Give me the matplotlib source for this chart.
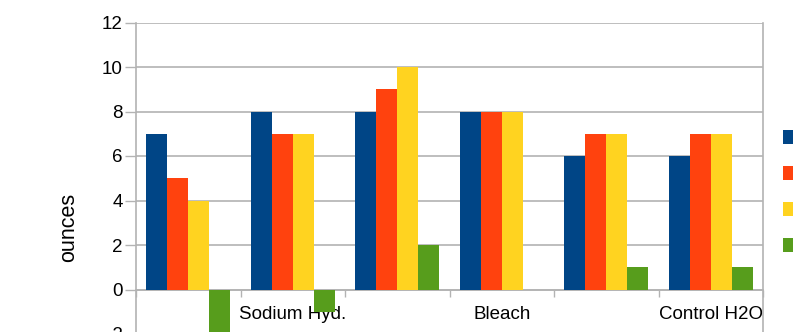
import matplotlib
matplotlib.use("Agg")
import matplotlib.pyplot as plt
from matplotlib.ticker import FixedLocator, NullFormatter
import numpy as np

# Category labels along the x axis (only every other one is printed)
categories = ["", "Sodium Hyd.", "", "Bleach", "", "Control H2O"]

# Four measurement series, one bar per category each
series_names = ["Trial 1", "Trial 2", "Trial 3", "Trial 4"]
trial_1 = [7, 8, 8, 8, 6, 6]
trial_2 = [5, 7, 9, 8, 7, 7]
trial_3 = [4, 7, 10, 8, 7, 7]
trial_4 = [-2, -1, 2, 0, 1, 1]

y_ticks = [-2, 0, 2, 4, 6, 8, 10, 12]

colors = ["#004586", "#ff420e", "#ffd320", "#579d1c"]
grid_col = "#b3b3b3"

plt.rcParams["font.family"] = ["Liberation Sans", "DejaVu Sans"]

W, H = 793, 332
fig = plt.figure(figsize=(W / 100, H / 100), dpi=100)

# plot area in pixel terms: x 136..763, y(12)=22.5 .. y(-2)=334
x0, x1 = 136, 763
ytop, ybot = 22.5, 334
ax = fig.add_axes([x0 / W, (H - ybot) / H, (x1 - x0) / W, (ybot - ytop) / H])

series = [trial_1, trial_2, trial_3, trial_4]
n = len(categories)
x = np.arange(n)
bw = 0.2
for i, (vals, name, col) in enumerate(zip(series, series_names, colors)):
    ax.bar(x + (i - 1.5) * bw, vals, width=bw, color=col, label=name,
           linewidth=0, zorder=3)

ax.set_xlim(-0.5, n - 0.5)
ax.set_ylim(y_ticks[0], y_ticks[-1])

# y axis
ax.set_yticks(y_ticks)
ax.set_yticklabels([str(t) for t in y_ticks])
ax.yaxis.grid(True, color=grid_col, linewidth=1.2, zorder=0)
ax.tick_params(axis="y", direction="out", length=8, width=1.0,
               color=grid_col, pad=1.5, labelsize=13.5, labelcolor="#000000")

# x axis sits at zero, tick marks between groups, labels at group centres
ax.spines["bottom"].set_position(("data", 0))
ax.xaxis.set_major_locator(FixedLocator(np.arange(n + 1) - 0.5))
ax.xaxis.set_major_formatter(NullFormatter())
ax.xaxis.set_minor_locator(FixedLocator(x))
ax.set_xticklabels(categories, minor=True)
ax.tick_params(axis="x", which="major", direction="out", length=5,
               width=1.0, color=grid_col)
ax.tick_params(axis="x", which="minor", length=0, pad=12, labelsize=13.5,
               labelcolor="#000000")

for side in ["left", "right", "bottom", "top"]:
    ax.spines[side].set_color(grid_col)
    ax.spines[side].set_linewidth(1.2)
ax.spines["top"].set_visible(False)
ax.set_axisbelow(True)

fig.text(69 / W, 1 - 227 / H, "ounces", rotation=90, ha="center",
         va="center", fontsize=15.5, color="#000000")

fig.legend(loc="upper left", bbox_to_anchor=(783 / W, 1 - 130 / H),
           frameon=False, fontsize=12, handlelength=0.95, handleheight=0.95,
           labelspacing=1.2, borderpad=0, borderaxespad=0, handletextpad=0.6)

fig.savefig("out.png", dpi=100)
